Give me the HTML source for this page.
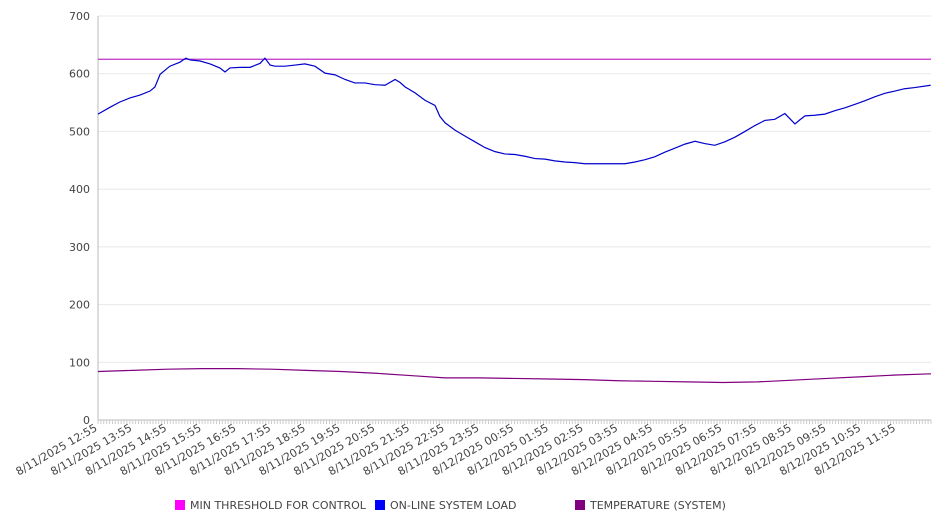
<!DOCTYPE html>
<html><head><meta charset="utf-8"><style>
body{margin:0;background:#fff;}
svg text{font-family:"DejaVu Sans","Liberation Sans",sans-serif;font-size:11px;fill:#444;}
</style></head><body>
<svg id="chart" width="946" height="526" xmlns="http://www.w3.org/2000/svg"></svg>
<script>
const yTicks=[0,100,200,300,400,500,600,700];
const xLabels=["8/11/2025 12:55","8/11/2025 13:55","8/11/2025 14:55","8/11/2025 15:55","8/11/2025 16:55","8/11/2025 17:55","8/11/2025 18:55","8/11/2025 19:55","8/11/2025 20:55","8/11/2025 21:55","8/11/2025 22:55","8/11/2025 23:55","8/12/2025 00:55","8/12/2025 01:55","8/12/2025 02:55","8/12/2025 03:55","8/12/2025 04:55","8/12/2025 05:55","8/12/2025 06:55","8/12/2025 07:55","8/12/2025 08:55","8/12/2025 09:55","8/12/2025 10:55","8/12/2025 11:55"];
const loadHours=[0,0.35,0.63,0.92,1.21,1.5,1.64,1.79,2.07,2.36,2.53,2.65,2.94,3.23,3.51,3.66,3.8,4.09,4.38,4.67,4.81,4.96,5.1,5.39,5.68,5.96,6.25,6.54,6.83,7.12,7.4,7.69,7.98,8.27,8.56,8.7,8.85,9.13,9.42,9.71,9.85,10.0,10.29,10.57,10.86,11.15,11.44,11.72,12.01,12.3,12.59,12.88,13.16,13.45,13.74,14.03,14.32,14.6,14.89,15.18,15.47,15.76,16.04,16.33,16.62,16.91,17.2,17.48,17.77,18.06,18.35,18.64,18.92,19.21,19.5,19.79,20.08,20.22,20.37,20.65,20.94,21.23,21.52,21.81,22.09,22.38,22.67,22.96,23.24,23.53,23.99];
const loadValues=[530,542,551,558,563,570,577,599,613,620,627,624,622,617,610,603,610,611,611,618,627,615,613,613,615,617,613,601,598,590,584,584,581,580,590,585,577,567,554,545,526,515,502,492,482,472,465,461,460,457,453,452,449,447,446,444,444,444,444,444,447,451,456,464,471,478,483,479,476,482,490,500,510,519,521,531,513,520,527,528,530,536,541,547,553,560,566,570,574,576,580];
const tempHours=[0,1,2,3,4,5,6,7,8,9,10,11,12,13,14,15,16,17,18,19,20,21,22,23,24];
const tempValues=[84,86,88,89,89,88,86,84,81,77,73,73,72,71,70,68,67,66,65,66,69,72,75,78,80];
const threshold=[625];
const L=98,R=931,T=16,B=420,yMax=700,hours=24;
const X=h=>L+h/hours*(R-L), Y=v=>B-v/yMax*(B-T);
const svg=document.getElementById('chart');const NS='http://www.w3.org/2000/svg';
function mk(t,a,p){const e=document.createElementNS(NS,t);for(const k in a)e.setAttribute(k,a[k]);(p||svg).appendChild(e);return e;}
yTicks.forEach(v=>{const g=mk('line',{x1:L,x2:R,y1:Y(v),y2:Y(v),stroke:v===0?'#bbb':'#e8e8e8'});


const t=mk('text',{x:L-8,y:Y(v)+4,'text-anchor':'end'});t.textContent=v;

});
const ax=mk('line',{x1:L,x2:L,y1:T,y2:B,stroke:'#bbb'});


for(let i=0;i<=288;i++){const x=X(i/12);const tk=mk('line',{x1:x,x2:x,y1:B,y2:B+4,stroke:'#ccc'});

}
xLabels.forEach((s,i)=>{const x=X(i);const t=mk('text',{x:x,y:B+10,'text-anchor':'end',transform:`rotate(-30 ${x} ${B+10})`});t.textContent=s;

});
const th=mk('line',{x1:L,x2:R,y1:Y(threshold[0]),y2:Y(threshold[0]),stroke:'#c030c8','stroke-width':1.2});


const lp=mk('polyline',{points:loadHours.map((h,i)=>X(h)+','+Y(loadValues[i])).join(' '),fill:'none',stroke:'#0000cc','stroke-width':1.2});


const tp=mk('polyline',{points:tempHours.map((h,i)=>X(h)+','+Y(tempValues[i])).join(' '),fill:'none',stroke:'#800080','stroke-width':1.2});


const leg=[["MIN THRESHOLD FOR CONTROL","#ff00ff",175],["ON-LINE SYSTEM LOAD","#0000ff",375],["TEMPERATURE (SYSTEM)","#800080",575]];
leg.forEach(l=>{const g=mk('g',{});


mk('rect',{x:l[2],y:500,width:10,height:10,fill:l[1]},g);
const t=mk('text',{x:l[2]+15,y:509},g);t.textContent=l[0];});
</script>
</body></html>
